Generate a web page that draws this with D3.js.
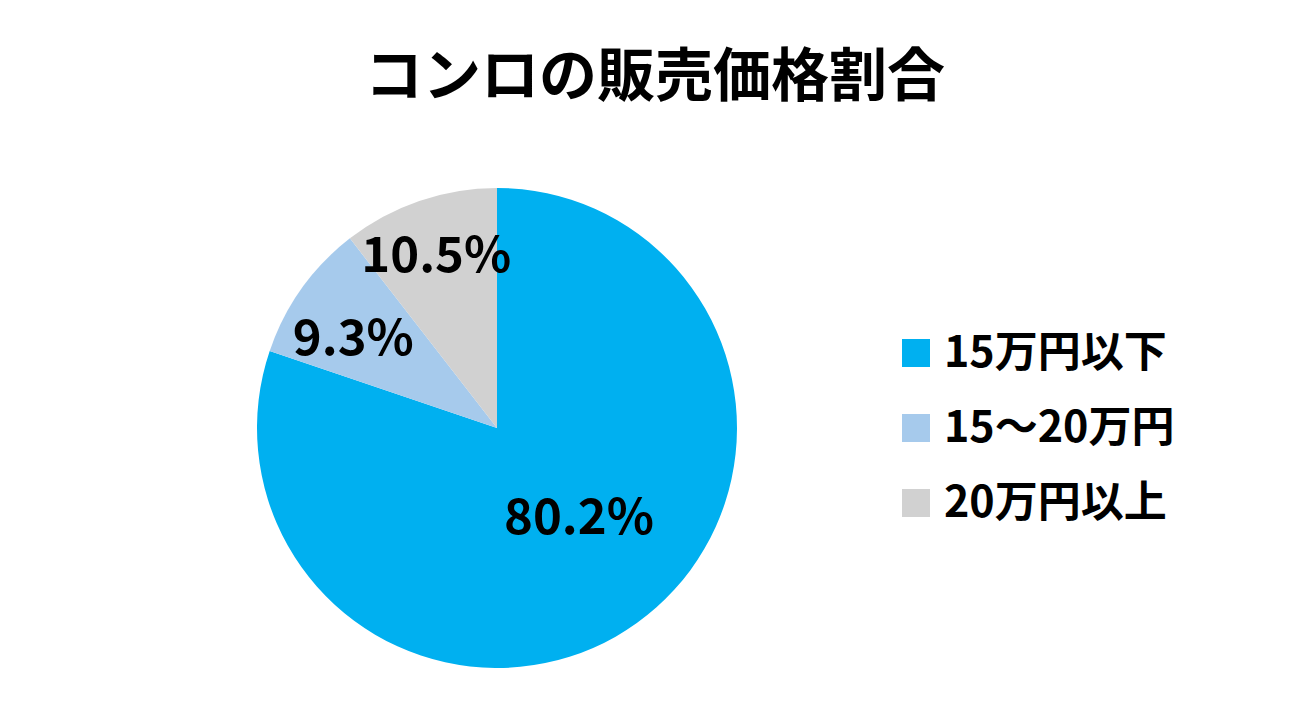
<!DOCTYPE html>
<html>
<head>
<meta charset="utf-8">
<script src="https://cdn.jsdelivr.net/npm/d3@7"></script>
<style>
  html, body { margin: 0; padding: 0; background: #fff; }
  svg { display: block; font-family: "Noto Sans CJK JP", "Noto Sans", sans-serif; }
</style>
</head>
<body>
<svg id="chart"></svg>
<script>
const title = 'コンロの販売価格割合';
const categories = ['15万円以下', '15～20万円', '20万円以上'];
const shares = [80.2, 9.3, 10.5];
const colors = ['#00B0F0', '#A6CAEC', '#D1D1D1'];

const width = 1309;
const height = 728;

const svg = d3.select('#chart')
  .attr('width', width)
  .attr('height', height);

svg.append('rect')
  .attr('width', width)
  .attr('height', height)
  .attr('fill', '#fff');

// Title
svg.append('text')
  .attr('x', 655)
  .attr('y', 96)
  .attr('text-anchor', 'middle')
  .attr('font-size', '58px')
  .attr('font-weight', 700)
  .attr('fill', '#000')
  .text(title);

const data = categories.map((c, i) => ({ name: c, value: shares[i], color: colors[i] }));

// Pie
const radius = 240;
const g = svg.append('g')
  .attr('transform', 'translate(497,428)');

const pie = d3.pie()
  .value(d => d.value)
  .sort(null);

const arc = d3.arc()
  .innerRadius(0)
  .outerRadius(radius);

const arcs = pie(data);

g.selectAll('path.slice')
  .data(arcs)
  .enter()
  .append('path')
  .attr('class', 'slice')
  .attr('d', arc)
  .attr('fill', d => d.data.color);

// Labels: big slice near the middle, small slices pushed outwards,
// then nudged a little the way the original placed them
const labelNudge = [[12, -9], [-1, 11], [-4, -8]];

g.selectAll('text.label')
  .data(arcs)
  .enter()
  .append('text')
  .attr('class', 'label')
  .attr('transform', (d, i) => {
    const r = d.data.value > 50 ? radius * 0.5 : radius * 0.73;
    const pos = d3.arc().innerRadius(r).outerRadius(r).centroid(d);
    return `translate(${pos[0] + labelNudge[i][0]},${pos[1] + labelNudge[i][1]})`;
  })
  .attr('text-anchor', 'middle')
  .attr('dy', '0.36em')
  .attr('font-size', '49px')
  .attr('font-weight', 700)
  .attr('fill', '#000')
  .text(d => `${d.data.value.toFixed(1)}%`);

// Legend
const legend = svg.append('g')
  .attr('transform', 'translate(902,339)');

const item = legend.selectAll('g')
  .data(data)
  .enter()
  .append('g')
  .attr('transform', (d, i) => `translate(0,${i * 75})`);

item.append('rect')
  .attr('width', 28)
  .attr('height', 28)
  .attr('fill', d => d.color);

item.append('text')
  .attr('x', 42)
  .attr('y', 28)
  .attr('font-size', '43px')
  .attr('font-weight', 700)
  .attr('fill', '#000')
  .text(d => d.name);
</script>
</body>
</html>
